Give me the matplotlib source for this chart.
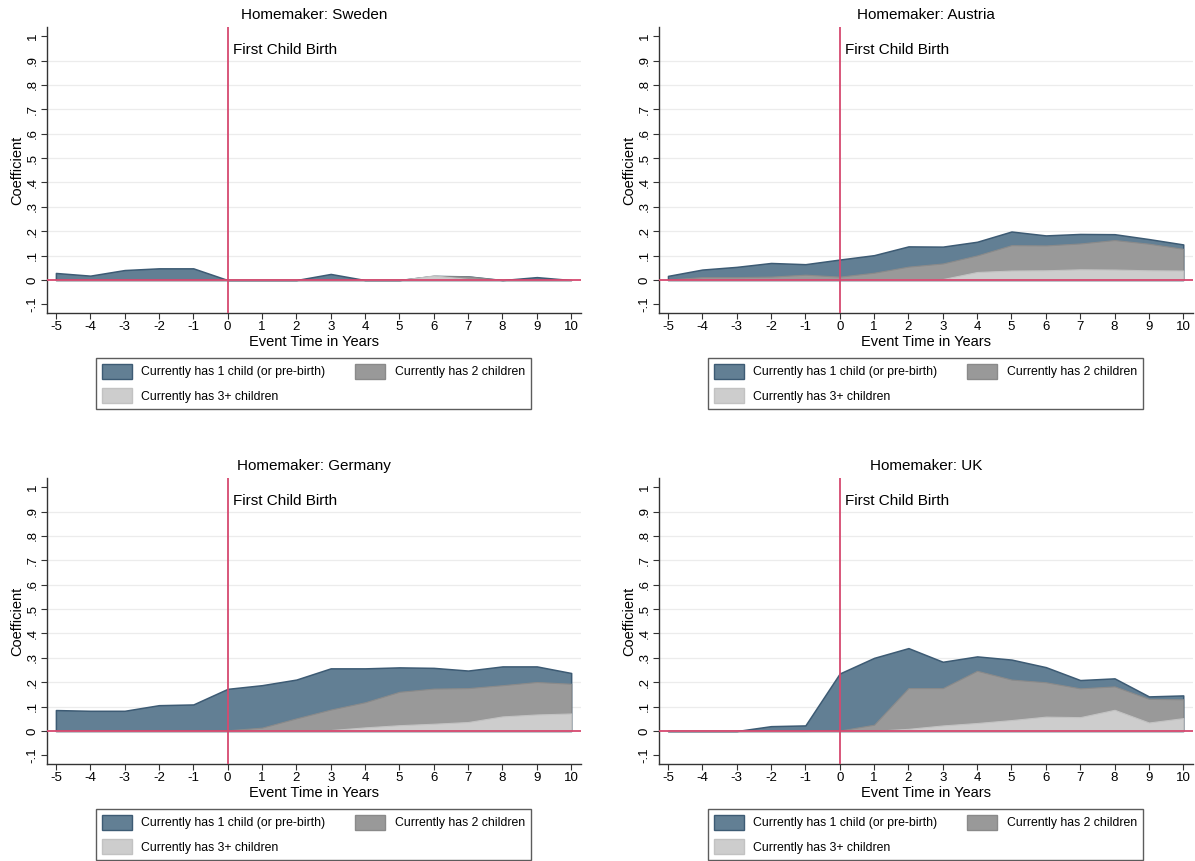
import matplotlib
matplotlib.use("Agg")
from matplotlib import pyplot as plt
from matplotlib.patches import Patch

plt.rcParams['font.family'] = ['Liberation Sans', 'DejaVu Sans']

event_time = [-5, -4, -3, -2, -1, 0, 1, 2, 3, 4, 5, 6, 7, 8, 9, 10]
y_ticks = [-0.1, 0, 0.1, 0.2, 0.3, 0.4, 0.5, 0.6, 0.7, 0.8, 0.9, 1]
y_tick_labels = ['-.1', '0', '.1', '.2', '.3', '.4', '.5', '.6', '.7', '.8', '.9', '1']

countries = ['Sweden', 'Austria', 'Germany', 'UK']

# top edge of each area (areas are drawn over each other from zero)
one_child = {
    'Sweden': [0.029, 0.018, 0.041, 0.048, 0.048, 0.0, 0.0, 0.0, 0.025, 0.0, 0.0, 0.017, 0.015, 0.0, 0.012, 0.0],
    'Austria': [0.017, 0.043, 0.054, 0.070, 0.065, 0.084, 0.102, 0.138, 0.137, 0.157, 0.199, 0.183, 0.189, 0.188, 0.168, 0.146],
    'Germany': [0.086, 0.083, 0.083, 0.106, 0.109, 0.173, 0.188, 0.211, 0.257, 0.257, 0.261, 0.259, 0.248, 0.265, 0.265, 0.238],
    'UK': [0.0, 0.0, 0.0, 0.020, 0.023, 0.236, 0.300, 0.340, 0.284, 0.306, 0.293, 0.262, 0.209, 0.216, 0.142, 0.146],
}
two_children = {
    'Sweden': [0.0, 0.0, 0.0, 0.0, 0.0, 0.0, 0.0, 0.0, 0.0, 0.0, 0.0, 0.017, 0.015, 0.0, 0.0, 0.0],
    'Austria': [0.002, 0.012, 0.012, 0.014, 0.022, 0.014, 0.030, 0.055, 0.068, 0.101, 0.143, 0.142, 0.150, 0.164, 0.149, 0.128],
    'Germany': [0.001, 0.001, 0.001, 0.001, 0.001, 0.003, 0.014, 0.052, 0.088, 0.118, 0.161, 0.174, 0.176, 0.188, 0.201, 0.194],
    'UK': [0.0, 0.0, 0.0, 0.0, 0.0, 0.002, 0.026, 0.176, 0.176, 0.247, 0.211, 0.200, 0.175, 0.183, 0.132, 0.130],
}
three_plus = {
    'Sweden': [0.0, 0.0, 0.0, 0.0, 0.0, 0.0, 0.0, 0.0, 0.0, 0.0, 0.0, 0.019, 0.004, 0.0, 0.0, 0.0],
    'Austria': [0.0, 0.001, 0.001, 0.001, 0.001, 0.001, 0.002, 0.004, 0.004, 0.033, 0.039, 0.040, 0.044, 0.043, 0.040, 0.039],
    'Germany': [0.0, 0.0, 0.0, 0.0, 0.0, 0.0, 0.001, 0.002, 0.004, 0.015, 0.024, 0.030, 0.037, 0.060, 0.068, 0.072],
    'UK': [0.0, 0.0, 0.0, 0.0, 0.0, 0.0, 0.001, 0.009, 0.023, 0.033, 0.045, 0.059, 0.057, 0.087, 0.035, 0.053],
}

c_one = '#627f94'
c_one_edge = '#3d5b74'
c_two = '#999999'
c_two_edge = '#8a8a8a'
c_three = '#cdcdcd'
c_three_edge = '#c2c2c2'
c_red = '#d6496f'

fig = plt.figure(figsize=(11.95, 8.61), dpi=100)

ax_pos = [
    [0.0393, 0.6365, 0.447, 0.332],
    [0.5515, 0.6365, 0.447, 0.332],
    [0.0393, 0.1127, 0.447, 0.332],
    [0.5515, 0.1127, 0.447, 0.332],
]
legend_center = [
    (0.2623, 0.5546),
    (0.7745, 0.5546),
    (0.2623, 0.0308),
    (0.7745, 0.0308),
]

for country, pos, lc in zip(countries, ax_pos, legend_center):
    ax = fig.add_axes(pos)
    for yy in y_ticks[2:-1]:
        ax.axhline(yy, color='#ececec', lw=0.9, zorder=0)
    ax.fill_between(event_time, 0, one_child[country], facecolor=c_one, edgecolor=c_one_edge, lw=1.1, zorder=2)
    ax.fill_between(event_time, 0, two_children[country], facecolor=c_two, edgecolor=c_two_edge, lw=0.8, zorder=3)
    ax.fill_between(event_time, 0, three_plus[country], facecolor=c_three, edgecolor=c_three_edge, lw=0.8, zorder=4)
    ax.axhline(0, color=c_red, lw=1.3, zorder=5)
    ax.axvline(0, color=c_red, lw=1.3, zorder=5)
    ax.text(0.15, 0.945, 'First Child Birth', fontsize=11, va='center', ha='left', zorder=6)

    ax.set_xlim(-5.26, 10.29)
    ax.set_ylim(-0.135, 1.037)
    ax.set_xticks(event_time)
    ax.set_xticklabels([str(t) for t in event_time], fontsize=9.5)
    ax.set_yticks(y_ticks)
    ax.set_yticklabels(y_tick_labels, fontsize=9.5, rotation=90, va='center')
    ax.tick_params(direction='out', length=4, width=0.8, color='#333333', pad=2)
    for side in ['top', 'right']:
        ax.spines[side].set_visible(False)
    for side in ['left', 'bottom']:
        ax.spines[side].set_color('#333333')
        ax.spines[side].set_linewidth(1.0)
    ax.set_title('Homemaker: ' + country, fontsize=11, pad=6)
    ax.set_xlabel('Event Time in Years', fontsize=10.5, labelpad=1)
    ax.set_ylabel('Coefficient', fontsize=10.5, labelpad=2)

    handles = [
        Patch(facecolor=c_one, edgecolor=c_one_edge, label='Currently has 1 child (or pre-birth)'),
        Patch(facecolor=c_three, edgecolor=c_three_edge, label='Currently has 3+ children'),
        Patch(facecolor=c_two, edgecolor=c_two_edge, label='Currently has 2 children'),
    ]
    leg = fig.legend(handles=handles, ncol=2, loc='center', bbox_to_anchor=lc,
                     fontsize=8.8, frameon=True, fancybox=False, edgecolor='#333333',
                     handlelength=2.4, handleheight=1.5, columnspacing=2.45,
                     borderpad=0.5, labelspacing=0.75, handletextpad=0.8)
    leg.get_frame().set_linewidth(1.0)

fig.savefig('out.png', dpi=100)
